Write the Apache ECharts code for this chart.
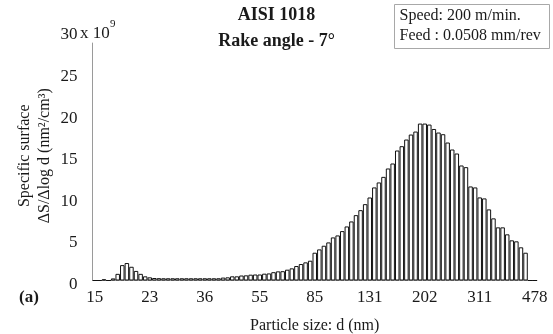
<!DOCTYPE html>
<html>
<head>
<meta charset="utf-8">
<script src="https://cdn.jsdelivr.net/npm/echarts@6/dist/echarts.min.js"></script>
<style>
html, body { margin: 0; padding: 0; background: #fff; }
#chart { width: 553px; height: 334px; }
</style>
</head>
<body>
<div id="chart"></div>
<script>
// SMPS channel midpoints (nm), 64 channels per decade
const diameters = [
  15.1, 15.7, 16.3, 16.8, 17.5, 18.1, 18.8, 19.5, 20.2, 20.9, 21.7, 22.5,
  23.3, 24.1, 25.0, 25.9, 26.9, 27.9, 28.9, 30.0, 31.1, 32.2, 33.4, 34.6,
  35.9, 37.2, 38.5, 40.0, 41.4, 42.9, 44.5, 46.1, 47.8, 49.6, 51.4, 53.3,
  55.2, 57.3, 59.4, 61.5, 63.8, 66.1, 68.5, 71.0, 73.7, 76.4, 79.1, 82.0,
  85.1, 88.2, 91.4, 94.7, 98.2, 101.8, 105.5, 109.4, 113.4, 117.6, 121.9, 126.3,
  131.0, 135.8, 140.7, 145.9, 151.2, 156.8, 162.5, 168.5, 174.7, 181.1, 187.7, 194.6,
  201.7, 209.1, 216.7, 224.7, 232.9, 241.4, 250.3, 259.5, 269.0, 278.8, 289.0, 299.6,
  310.6, 322.0, 333.8, 346.0, 358.7, 371.8, 385.4, 399.5, 414.2, 429.4, 445.1, 461.4,
  478.3
];

// Specific surface dS/dlog d, in units of 1e9 nm²/cm³
const surface = [
  0, 0, 0.15, 0, 0.25, 0.8, 1.85, 2.1, 1.65, 1.15, 0.8, 0.5,
  0.38, 0.3, 0.28, 0.27, 0.27, 0.27, 0.27, 0.27, 0.27, 0.27, 0.27, 0.27,
  0.27, 0.27, 0.27, 0.27, 0.35, 0.38, 0.5, 0.5, 0.6, 0.62, 0.7, 0.72,
  0.72, 0.82, 0.85, 1.0, 1.1, 1.12, 1.3, 1.46, 1.74, 1.98, 2.18, 2.38,
  3.34, 3.74, 4.18, 4.58, 5.18, 5.42, 5.94, 6.5, 7.1, 7.86, 8.46, 9.18,
  9.98, 11.19, 11.79, 12.46, 13.47, 14.07, 15.63, 16.15, 16.95, 17.55, 17.91, 18.87,
  18.87, 18.75, 18.22, 17.79, 17.59, 16.59, 15.75, 15.27, 13.83, 13.63, 11.31, 11.19,
  9.99, 9.87, 8.55, 7.47, 6.39, 6.39, 5.55, 4.83, 4.71, 3.99, 3.34, 0,
  0
];

const yMax = 30;
const yStep = 5;
const labelEvery = 12;
const axisTopValue = 28.6;

const serif = '"Liberation Serif", "Times New Roman", serif';
const ink = '#1a1a1a';
const axisGray = '#9a9a9a';

const gridLeft = 92.5;
const gridRight = 16;
const gridTop = 31;
const gridBottom = 53.5;

const chart = echarts.init(document.getElementById('chart'), null, { renderer: 'canvas' });

chart.setOption({
  animation: false,
  backgroundColor: '#fff',
  textStyle: { fontFamily: serif },
  title: {
    text: 'AISI 1018\nRake angle - 7°',
    left: 'center',
    top: -3,
    textStyle: {
      fontFamily: serif, fontWeight: 'bold', fontSize: 18, color: ink, lineHeight: 26
    }
  },
  grid: {
    left: gridLeft, right: gridRight, top: gridTop, bottom: gridBottom,
    containLabel: false,
    outerBoundsMode: 'none'
  },
  xAxis: {
    type: 'category',
    data: diameters,
    name: 'Particle size: d (nm)',
    nameLocation: 'middle',
    nameGap: 37,
    nameMoveOverlap: false,
    nameTextStyle: { fontFamily: serif, fontSize: 16, color: ink },
    axisLine: { lineStyle: { color: axisGray, width: 1 } },
    axisTick: { show: false },
    axisLabel: {
      interval: labelEvery - 1,
      margin: 9,
      fontFamily: serif, fontSize: 17, color: ink,
      formatter: (v) => String(Math.round(Number(v)))
    },
    splitLine: { show: false }
  },
  yAxis: {
    type: 'value',
    min: 0, max: yMax, interval: yStep,
    name: 'Specific surface\nΔS/Δlog d (nm²/cm³)',
    nameLocation: 'middle',
    nameGap: 38,
    nameMoveOverlap: false,
    nameRotate: 90,
    nameTextStyle: { fontFamily: serif, fontSize: 16, color: ink, lineHeight: 20 },
    axisLine: { show: false },
    axisTick: { show: false },
    splitLine: { show: false },
    axisLabel: {
      margin: 15,
      verticalAlign: 'top',
      lineHeight: 8,
      fontFamily: serif, fontSize: 17, color: ink
    }
  },
  series: [{
    type: 'bar',
    data: surface,
    barCategoryGap: '2%',
    itemStyle: { color: '#fff', borderColor: '#111', borderWidth: 1 },
    emphasis: { disabled: true }
  }],
  graphic: [
    // exponent next to the top tick
    { id: 'expBase', type: 'text', left: 80, top: 25, style: { text: 'x 10', font: '17px ' + serif, fill: ink } },
    { id: 'expPow', type: 'text', left: 110, top: 19, style: { text: '9', font: '11px ' + serif, fill: ink } },
    // panel tag
    { id: 'tag', type: 'text', left: 19, top: 289, style: { text: '(a)', font: 'bold 17px ' + serif, fill: ink } },
    // cutting conditions box
    {
      id: 'conditions', type: 'group', left: 394, top: 4,
      children: [
        { type: 'rect', shape: { x: 0, y: 0, width: 155, height: 44 },
          style: { fill: '#fff', stroke: '#a8a8a8', lineWidth: 1 } },
        { type: 'text', x: 5, y: 3, style: { text: 'Speed: 200 m/min.', font: '16px ' + serif, fill: ink } },
        { type: 'text', x: 5, y: 23, style: { text: 'Feed : 0.0508 mm/rev', font: '16px ' + serif, fill: ink } }
      ]
    }
  ]
});

// Left axis line stops a little below the top tick
const yTopPx = chart.convertToPixel({ yAxisIndex: 0 }, axisTopValue);
const yZeroPx = chart.convertToPixel({ yAxisIndex: 0 }, 0);
chart.setOption({
  graphic: [
    { id: 'yAxisLine', type: 'line',
      shape: { x1: gridLeft, y1: yTopPx, x2: gridLeft, y2: yZeroPx },
      style: { stroke: axisGray, lineWidth: 1 }, z: 10 }
  ]
});
</script>
</body>
</html>
